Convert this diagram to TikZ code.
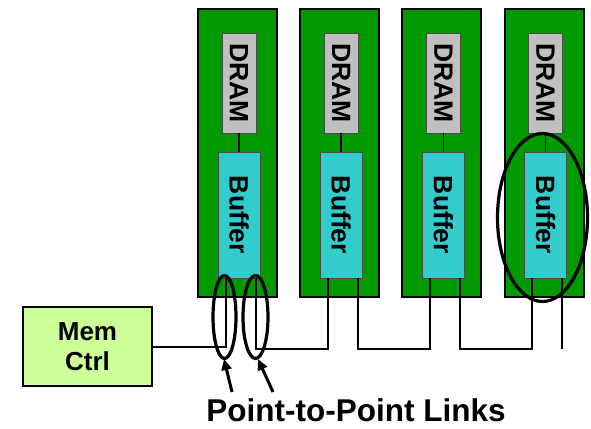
\documentclass[tikz,border=0pt]{standalone}
\usepackage{fontspec}
\setmainfont{Liberation Sans}
\usetikzlibrary{arrows.meta}
\definecolor{modgreen}{RGB}{0,153,0}
\definecolor{bufcyan}{RGB}{51,204,204}
\definecolor{dramgray}{RGB}{192,192,192}
\definecolor{ctrlgreen}{RGB}{204,255,153}
\begin{document}
\begin{tikzpicture}[x=1pt,y=-1pt,
  module/.style={draw=black, line width=2pt, fill=modgreen, minimum width=79pt, minimum height=288pt, inner sep=0pt},
  dram/.style={draw=black!70, line width=0.8pt, fill=dramgray, rotate=-90, minimum width=100pt, minimum height=34pt, inner sep=0pt, font=\fontsize{26.5}{30}\selectfont\bfseries},
  buffer/.style={draw=black!70, line width=0.8pt, fill=bufcyan, rotate=-90, minimum width=126pt, minimum height=42pt, inner sep=0pt, font=\fontsize{26.5}{30}\selectfont\bfseries},
  wire/.style={line width=2pt, black},
  ring/.style={line width=3.2pt, black},
  pointer/.style={line width=3pt, -{Triangle[length=11pt,width=10pt]}}
]
\useasboundingbox (0,0) rectangle (591,428);
\foreach \i/\cx in {1/237.5, 2/339.7, 3/441.9, 4/544.1} {
  \node[module] (m\i) at (\cx,153) {};
  \node[dram] (d\i) at (\cx+1.5,83) {DRAM};
  \node[buffer] (b\i) at (\cx+1.5,215) {Buffer};
  \draw[wire, line width=1.6pt] (d\i.east) -- (b\i.west);
  \coordinate (bl\i) at ([xshift=-13.5pt]b\i.east);
  \coordinate (br\i) at ([xshift=16.5pt]b\i.east);
}
\node[draw=black, line width=2pt, fill=ctrlgreen, minimum width=129pt, minimum height=79pt, align=center, inner sep=0pt, font=\fontsize{26}{30}\selectfont\bfseries] (mc) at (87.5,346.5) {Mem\\Ctrl};
\coordinate (end) at (562,349);
\draw[wire] (mc.east) -- (bl1 |- mc.east) -- (bl1);
\draw[wire] (br1) -- (br1 |- 0,349) -- (bl2 |- 0,349) -- (bl2);
\draw[wire] (br2) -- (br2 |- 0,349) -- (bl3 |- 0,349) -- (bl3);
\draw[wire] (br3) -- (br3 |- 0,349) -- (bl4 |- 0,349) -- (bl4);
\draw[wire] (br4) -- (br4 |- end);
\draw[ring] (224.5,317) ellipse [x radius=11.5, y radius=41.5];
\draw[ring] (255.5,317) ellipse [x radius=12.5, y radius=41.5];
\draw[ring] (542.5,217.5) ellipse [x radius=45, y radius=84];
\node[anchor=base, inner sep=0pt, font=\fontsize{31.5}{34}\selectfont\bfseries] (lbl) at (356,421) {Point-to-Point Links};
\coordinate (a1s) at (232,392);
\coordinate (a1e) at (224,359);
\coordinate (a2s) at (273,392);
\coordinate (a2e) at (258,359);
\draw[pointer] (a1s) -- (a1e);
\draw[pointer] (a2s) -- (a2e);
\end{tikzpicture}
\end{document}
